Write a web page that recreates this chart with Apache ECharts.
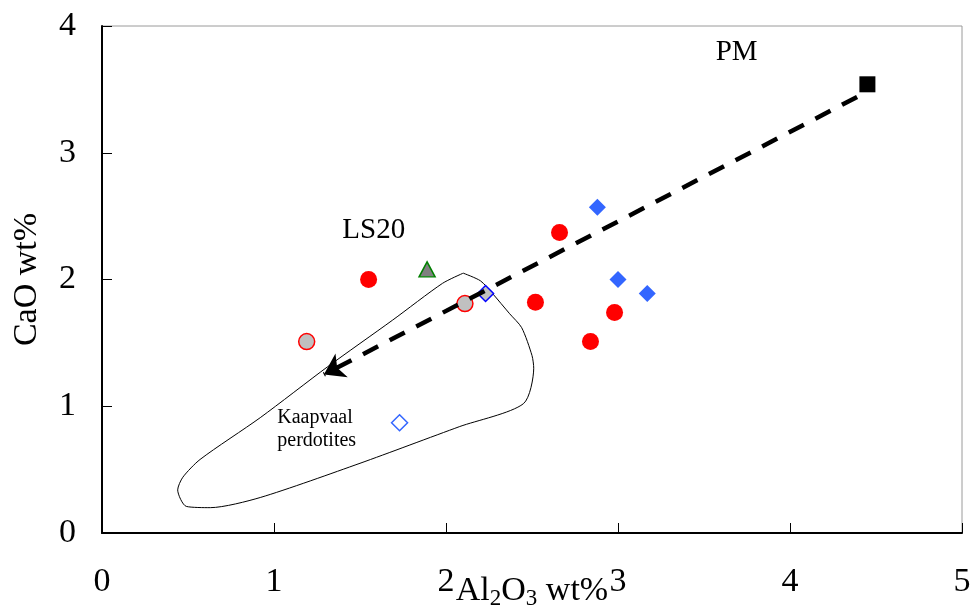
<!DOCTYPE html>
<html>
<head>
<meta charset="utf-8">
<script src="https://cdn.jsdelivr.net/npm/echarts@6/dist/echarts.min.js"></script>
<style>
  html, body { margin: 0; padding: 0; background: #fff; }
  #chart { width: 973px; height: 610px; }
</style>
</head>
<body>
<div id="chart"></div>
<script>
// Al2O3 (x) vs CaO (y), wt%
const redSamples = [[1.55, 2.00], [2.66, 2.37], [2.52, 1.82], [2.98, 1.74], [2.84, 1.51]];
const greyCircles = [[1.19, 1.51], [2.11, 1.81]];
const greenTriangle = [[1.89, 2.08]];
const blueDiamonds = [[2.88, 2.57], [3.00, 2.00], [3.17, 1.89]];
const greyDiamond = [[2.23, 1.89]];
const openDiamond = [[1.73, 0.87]];
const primitiveMantle = [[4.45, 3.54]];

// Depletion trend from PM towards the Kaapvaal field
const trendStart = [4.39, 3.44];
const trendEnd = [1.29, 1.25];

// Outline of the Kaapvaal peridotite field
const kaapvaalField = [
  [2.10, 2.05], [2.20, 1.99], [2.27, 1.89], [2.37, 1.73], [2.44, 1.62],
  [2.50, 1.40], [2.51, 1.30], [2.45, 1.02], [2.08, 0.84], [1.50, 0.55],
  [0.92, 0.28], [0.63, 0.20], [0.49, 0.21], [0.44, 0.34], [0.47, 0.44],
  [0.57, 0.58], [0.92, 0.91], [1.31, 1.31], [1.69, 1.68], [1.98, 1.97],
  [2.10, 2.05]
];

const xTicks = [0, 1, 2, 3, 4, 5];
const yTicks = [0, 1, 2, 3, 4];

// Text annotations: [x, y, text]
const notes = [
  [3.69, 3.79, 'PM'],
  [1.58, 2.39, 'LS20']
];
const fieldNote = [[1.019, 0.82, 'Kaapvaal\nperdotites']];

const serif = '"Liberation Serif", "Times New Roman", serif';
const chart = echarts.init(document.getElementById('chart'));

chart.setOption({
  animation: false,
  backgroundColor: '#fff',
  textStyle: { fontFamily: serif },
  grid: {
    left: 102, right: 11, top: 26, bottom: 77,
    containLabel: false, outerBoundsMode: 'none',
    show: true, borderColor: '#9a9a9a', borderWidth: 1
  },
  xAxis: {
    type: 'value',
    min: xTicks[0], max: xTicks[xTicks.length - 1], interval: 1,
    splitLine: { show: false },
    axisLine: { lineStyle: { color: '#000', width: 2 } },
    axisTick: { inside: true, length: 10, lineStyle: { color: '#000', width: 1 } },
    axisLabel: { color: '#000', fontSize: 34, fontFamily: serif, margin: 32 },
    name: '{a|Al}{s|2}{a|O}{s|3}{a| wt%}',
    nameLocation: 'middle',
    nameGap: 40,
    nameMoveOverlap: false,
    nameTextStyle: {
      rich: {
        a: { fontSize: 34, fontFamily: serif, color: '#000', lineHeight: 36 },
        s: { fontSize: 23, fontFamily: serif, color: '#000', padding: [16, 0, 0, 0], lineHeight: 36 }
      }
    }
  },
  yAxis: {
    type: 'value',
    min: yTicks[0], max: yTicks[yTicks.length - 1], interval: 1,
    splitLine: { show: false },
    axisLine: { lineStyle: { color: '#000', width: 2 } },
    axisTick: { inside: true, length: 10, lineStyle: { color: '#000', width: 1 } },
    axisLabel: { color: '#000', fontSize: 34, fontFamily: serif, margin: 26 },
    name: 'CaO wt%',
    nameLocation: 'middle',
    nameRotate: 90,
    nameGap: 58,
    nameMoveOverlap: false,
    nameTextStyle: { fontSize: 34, fontFamily: serif, color: '#000' }
  },
  series: [
    {
      type: 'line',
      data: kaapvaalField,
      symbol: 'none',
      smooth: 0.25,
      lineStyle: { color: '#000', width: 1 },
      z: 1
    },
    {
      type: 'lines',
      coordinateSystem: 'cartesian2d',
      data: [{ coords: [trendStart, trendEnd] }],
      symbol: ['none', 'arrow'],
      symbolSize: 20,
      lineStyle: { color: '#000', width: 4.5, type: [17, 13], opacity: 1 },
      z: 3
    },
    {
      type: 'scatter', data: redSamples, symbol: 'circle', symbolSize: 17,
      itemStyle: { color: '#ff0000', opacity: 1 }, z: 4
    },
    {
      type: 'scatter', data: greyCircles, symbol: 'circle', symbolSize: 16,
      itemStyle: { color: '#c0c0c0', borderColor: '#ff0000', borderWidth: 1.5, opacity: 1 }, z: 2
    },
    {
      type: 'scatter', data: greenTriangle, symbol: 'triangle', symbolSize: [16, 15],
      itemStyle: { color: '#808080', borderColor: '#008000', borderWidth: 1.5, opacity: 1 }, z: 4
    },
    {
      type: 'scatter', data: blueDiamonds, symbol: 'diamond', symbolSize: 17,
      itemStyle: { color: '#3366ff', opacity: 1 }, z: 4
    },
    {
      type: 'scatter', data: greyDiamond, symbol: 'diamond', symbolSize: 16,
      itemStyle: { color: '#c0c0c0', borderColor: '#0000ff', borderWidth: 1.5, opacity: 1 }, z: 2
    },
    {
      type: 'scatter', data: openDiamond, symbol: 'diamond', symbolSize: 16,
      itemStyle: { color: '#fff', borderColor: '#3366ff', borderWidth: 1.5, opacity: 1 }, z: 4
    },
    {
      type: 'scatter', data: primitiveMantle, symbol: 'rect', symbolSize: 16,
      itemStyle: { color: '#000', opacity: 1 }, z: 4
    },
    {
      type: 'scatter', data: notes, symbolSize: 0, silent: true,
      itemStyle: { opacity: 1 },
      label: {
        show: true, position: 'inside', formatter: p => p.data[2],
        fontSize: 29, fontFamily: serif, color: '#000'
      }, z: 5
    },
    {
      type: 'scatter', data: fieldNote, symbolSize: 0, silent: true,
      itemStyle: { opacity: 1 },
      label: {
        show: true, position: 'right', distance: 0, formatter: p => p.data[2],
        fontSize: 20, lineHeight: 23, fontFamily: serif, color: '#000', align: 'left'
      }, z: 5
    }
  ]
});
</script>
</body>
</html>
